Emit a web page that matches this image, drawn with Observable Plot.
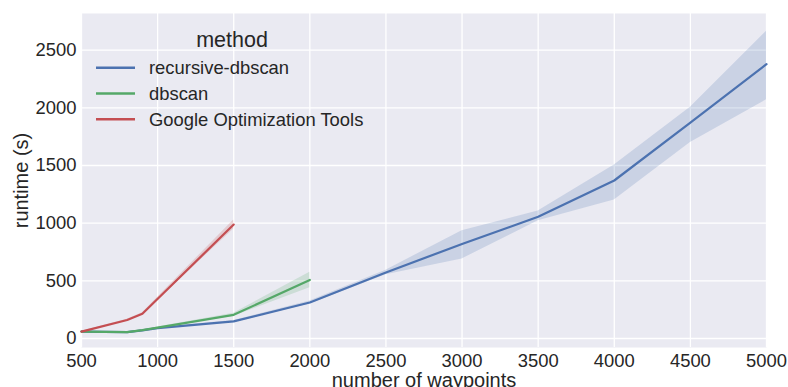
<!DOCTYPE html>
<html>
<head>
<meta charset="utf-8">
<script src="https://cdn.jsdelivr.net/npm/d3@7"></script>
<script src="https://cdn.jsdelivr.net/npm/@observablehq/plot@0.6"></script>
<style>
  html, body { margin: 0; padding: 0; background: #fff; }
  #wrap { position: relative; width: 788px; height: 387px; overflow: hidden; }
  #legend { position: absolute; left: 0; top: 0; pointer-events: none; }
</style>
</head>
<body>
<div id="wrap"></div>
<script>
// ---- data ----
const seriesNames = ["recursive-dbscan", "dbscan", "Google Optimization Tools"];
const seriesColors = ["#4C72B0", "#55A868", "#C44E52"];

const recWaypoints = [500, 800, 900, 1000, 1500, 2000, 2500, 3000, 3500, 4000, 4500, 5000];
const recMean      = [60, 55, 70, 90, 148, 312, 572, 820, 1055, 1370, 1872, 2378];
const recLow       = [57, 52, 66, 85, 140, 300, 552, 690, 1020, 1200, 1700, 2070];
const recHigh      = [63, 58, 74, 95, 156, 325, 592, 935, 1105, 1505, 2005, 2665];

const dbWaypoints  = [500, 800, 900, 1000, 1500, 2000];
const dbMean       = [60, 55, 72, 95, 205, 508];
const dbLow        = [57, 51, 68, 90, 192, 440];
const dbHigh       = [63, 59, 76, 100, 218, 575];

const gotWaypoints = [500, 800, 900, 1500];
const gotMean      = [60, 160, 215, 988];
const gotLow       = [57, 153, 207, 950];
const gotHigh      = [63, 167, 223, 1028];

const xTicks = [500, 1000, 1500, 2000, 2500, 3000, 3500, 4000, 4500, 5000];
const yTicks = [0, 500, 1000, 1500, 2000, 2500];

const xLabel = "number of waypoints";
const yLabel = "runtime (s)";
const legendTitle = "method";

// ---- build table ----
function rows(name, xs, m, lo, hi) {
  return xs.map((x, i) => ({method: name, x, y: m[i], lo: lo[i], hi: hi[i]}));
}
const data = [
  ...rows(seriesNames[0], recWaypoints, recMean, recLow, recHigh),
  ...rows(seriesNames[1], dbWaypoints, dbMean, dbLow, dbHigh),
  ...rows(seriesNames[2], gotWaypoints, gotMean, gotLow, gotHigh)
];

const fmt = d => String(d);

const chart = Plot.plot({
  width: 788,
  height: 387,
  marginLeft: 81,
  marginRight: 22,
  marginTop: 13,
  marginBottom: 40,
  style: {
    fontFamily: "'Liberation Sans', Arial, sans-serif",
    background: "#ffffff",
    color: "#262626"
  },
  x: { domain: [500, 5000] },
  y: { domain: [-78, 2818] },
  color: { domain: seriesNames, range: seriesColors },
  marks: [
    Plot.frame({ fill: "#EAEAF2", stroke: null }),
    Plot.gridX(xTicks, { stroke: "#ffffff", strokeOpacity: 1, strokeWidth: 1.3 }),
    Plot.gridY(yTicks, { stroke: "#ffffff", strokeOpacity: 1, strokeWidth: 1.3 }),
    Plot.areaY(data, { x: "x", y1: "lo", y2: "hi", z: "method", fill: "method", fillOpacity: 0.2 }),
    Plot.line(data, { x: "x", y: "y", z: "method", stroke: "method", strokeWidth: 2.2 }),
    Plot.axisX(xTicks, {
      tickSize: 0, tickPadding: 6, fontSize: 18.4, tickFormat: fmt,
      label: xLabel, labelAnchor: "center", labelArrow: "none", labelOffset: 39
    }),
    Plot.axisY(yTicks, {
      tickSize: 0, tickPadding: 5, fontSize: 18.4, tickFormat: fmt,
      label: yLabel, labelAnchor: "center", labelArrow: "none", labelOffset: 68
    })
  ]
});

// enlarge axis label font
d3.select(chart).selectAll("[aria-label='x-axis label'], [aria-label='y-axis label']")
  .attr("font-size", 20);
d3.select(chart).selectAll("[aria-label='x-axis label'] text, [aria-label='y-axis label'] text")
  .attr("font-size", 20);

const wrap = document.getElementById("wrap");
wrap.appendChild(chart);

// ---- legend overlay ----
const leg = d3.select(wrap).append("svg")
  .attr("id", "legend")
  .attr("width", 788).attr("height", 387)
  .style("font-family", "'Liberation Sans', Arial, sans-serif");
leg.append("text")
  .attr("x", 232).attr("y", 47)
  .attr("text-anchor", "middle")
  .attr("font-size", 21.5)
  .attr("fill", "#262626")
  .text(legendTitle);
seriesNames.forEach((name, i) => {
  const cy = 67.7 + 25.8 * i;
  leg.append("line")
    .attr("x1", 96).attr("x2", 135).attr("y1", cy).attr("y2", cy)
    .attr("stroke", seriesColors[i]).attr("stroke-width", 2.4);
  leg.append("text")
    .attr("x", 149).attr("y", cy).attr("dy", "0.35em")
    .attr("font-size", 18.4)
    .attr("fill", "#262626")
    .text(name);
});
</script>
</body>
</html>
